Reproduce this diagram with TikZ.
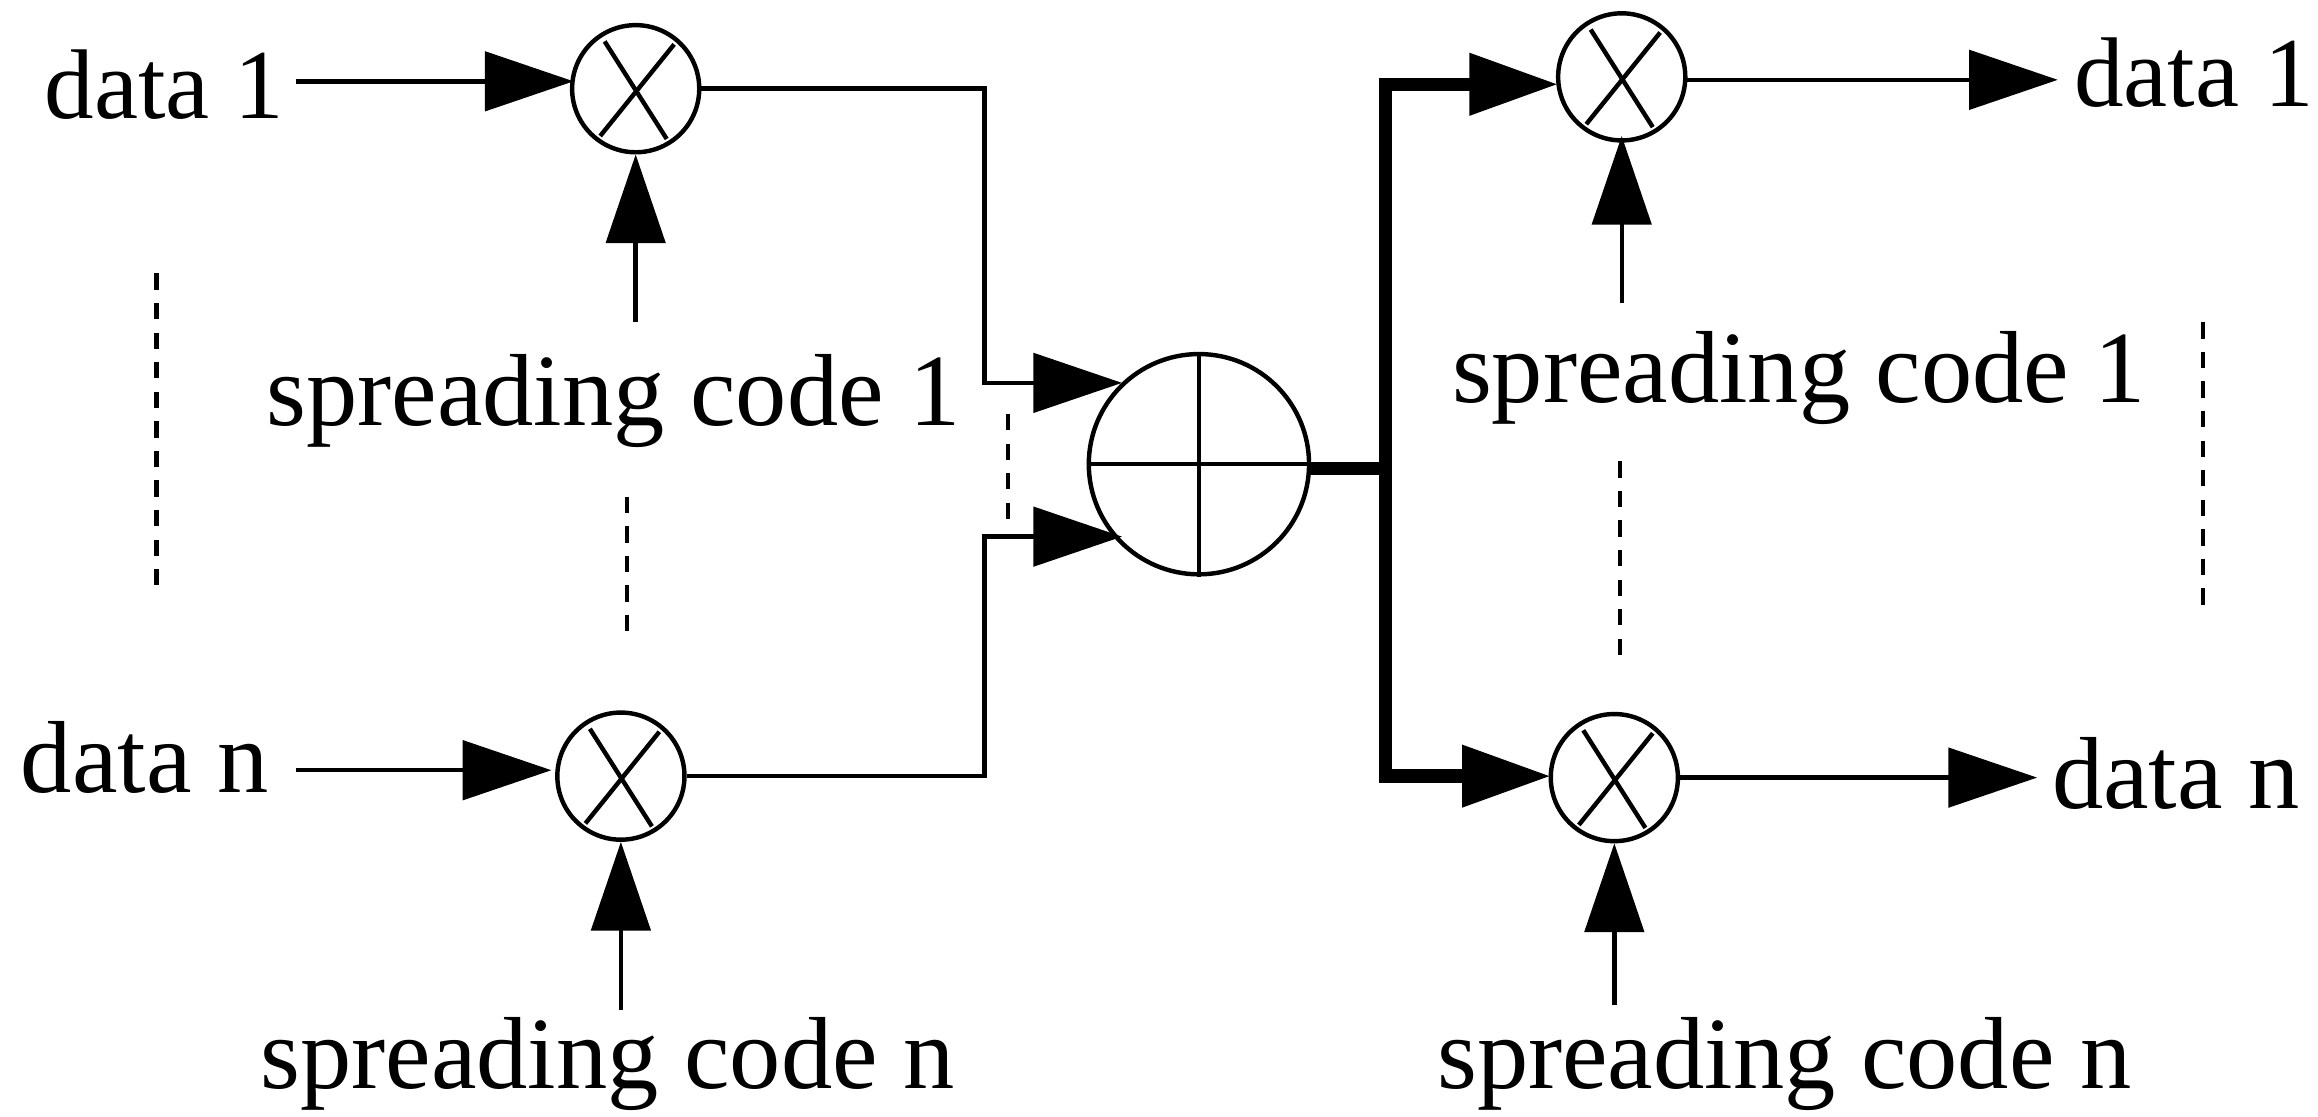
\documentclass[tikz,border=0pt]{standalone}
\usepackage{fontspec}
\setmainfont{Liberation Serif}
\usetikzlibrary{arrows.meta,calc}
\tikzset{
 x=1pt,y=-1pt,
 lbl/.style={inner sep=0pt,font=\fontsize{69.3}{70}\selectfont,anchor=base west},
 lblone/.style={inner sep=0pt,font=\fontsize{67}{70}\selectfont,anchor=base west},
 mul/.style={circle,draw,line width=3pt,minimum size=86pt,inner sep=0pt},
 sumc/.style={circle,draw,line width=3pt,minimum size=149pt,inner sep=0pt},
 wire/.style={line width=3pt},
 bus/.style={line width=9pt},
 tiparr/.style={-{Triangle[length=60pt,width=40pt]}},
 arr/.style={wire,tiparr},
 busarr/.style={bus,tiparr},
 dotted line/.style={line width=3pt,dash pattern=on 11pt off 9pt}
}
\begin{document}
\begin{tikzpicture}
\useasboundingbox (0,0) rectangle (1568,755);
\node[mul] (m1) at (430,60) {};
\node[mul] (m2) at (420,525) {};
\node[mul] (m3) at (1097,52) {};
\node[mul] (m4) at (1092,526) {};
\node[sumc] (s) at (811,314) {};
\foreach \m in {m1,m2,m3,m4}{
 \draw[wire] ($(\m.center)+(-21,-32)$) -- ($(\m.center)+(21,34)$);
 \draw[wire] ($(\m.center)+(26,-30)$) -- ($(\m.center)+(-24,32)$);
}
\draw[wire] (s.north) -- (s.south);
\draw[wire] (s.west) -- (s.east);
% labels
\node[lblone] (d1) at (30,80) {data 1};
\node[lbl] (dn) at (14,536) {data n};
\node[lbl] (c1) at (180,288) {spreading code 1};
\node[lbl] (cn) at (176,736) {spreading code n};
\node[lblone] (od1) at (1403,72) {data 1};
\node[lbl] (odn) at (1388,547) {data n};
\node[lbl] (oc1) at (982,272) {spreading code 1};
\node[lbl] (ocn) at (972,736) {spreading code n};
% free ends
\coordinate (a1) at (200,55);
\coordinate (a1e) at (388,55);
\coordinate (a2) at (200,521);
\coordinate (a2e) at (373,521);
\coordinate (c1s) at (430,218);
\coordinate (cns) at (420,683);
\coordinate (oc1s) at (1097,205);
\coordinate (oc1e) at (1097,92);
\coordinate (ocns) at (1092,680);
\coordinate (o1s) at (1141,54);
\coordinate (o1) at (1392,54);
\coordinate (o2) at (1378,526);
\coordinate (s1) at (759,259);
\coordinate (s2) at (759,363);
\coordinate (j) at (937,317);
\coordinate (b1) at (1054,57);
\coordinate (b2) at (1049,525);
\coordinate (k1) at (666,60);
\coordinate (k2) at (666,259);
\coordinate (k3) at (666,525);
\coordinate (k4) at (666,363);
\coordinate (u0) at (937,321);
\coordinate (u1) at (937,57);
\coordinate (v0) at (937,313);
\coordinate (v1) at (937,525);
% connectors
\draw[arr] (a1) -- (a1e);
\draw[arr] (a2) -- (a2e);
\draw[arr] (c1s) -- (m1.south);
\draw[arr] (cns) -- (m2.south);
\draw[arr] (oc1s) -- (oc1e);
\draw[arr] (ocns) -- (m4.south);
\draw[arr] (o1s) -- (o1);
\draw[arr] (m4.east) -- (o2);
\draw[arr] (m1.east) -- (k1) -- (k2) -- (s1);
\draw[arr] (m2.east) -- (k3) -- (k4) -- (s2);
\draw[bus] (s.east |- j) -- (j);
\draw[busarr,line join=miter] (u0) -- (u1) -- (b1);
\draw[busarr,line join=miter] (v0) -- (v1) -- (b2);
% dashes
\coordinate (e1) at (106,185); \coordinate (e2) at (106,398);
\coordinate (f1) at (424,336); \coordinate (f2) at (424,430);
\coordinate (g1) at (682,280); \coordinate (g2) at (682,352);
\coordinate (h1) at (1096,312); \coordinate (h2) at (1096,445);
\coordinate (i1) at (1490,218); \coordinate (i2) at (1490,410);
\draw[dotted line] (e1) -- (e2);
\draw[dotted line] (f1) -- (f2);
\draw[dotted line] (g1) -- (g2);
\draw[dotted line] (h1) -- (h2);
\draw[dotted line] (i1) -- (i2);
\end{tikzpicture}
\end{document}
